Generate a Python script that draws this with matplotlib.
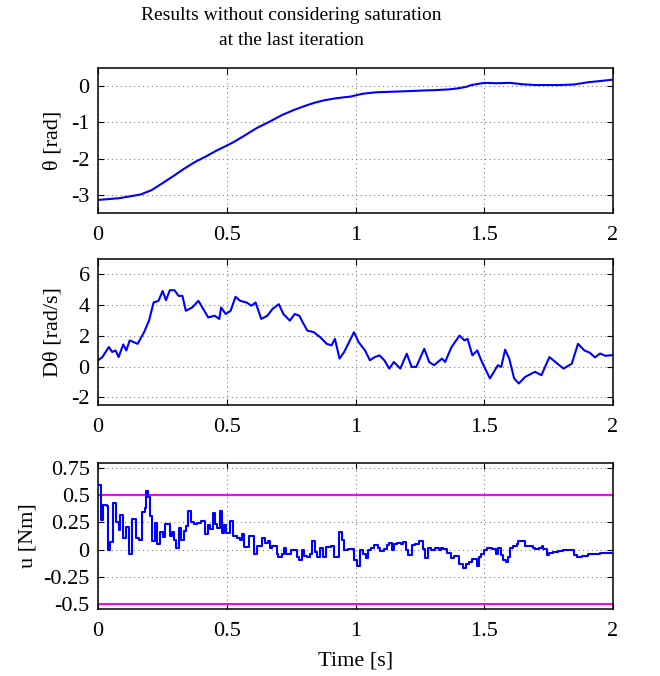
import matplotlib
matplotlib.use("Agg")
import matplotlib.pyplot as plt

# angle theta [rad]
theta_t = [0.0, 0.084, 0.165, 0.208, 0.25, 0.295, 0.332, 0.375, 0.419, 0.46, 0.5, 0.525,
           0.57, 0.618, 0.661, 0.717, 0.76, 0.804, 0.84, 0.879, 0.92, 0.953, 0.98, 1.003,
           1.028, 1.08, 1.14, 1.2, 1.264, 1.31, 1.363, 1.40, 1.43, 1.45, 1.5, 1.55, 1.6,
           1.65, 1.70, 1.736, 1.79, 1.848, 1.907, 1.95, 2.0]
theta_val = [-3.14, -3.09, -2.99, -2.87, -2.68, -2.47, -2.29, -2.10, -1.94, -1.78, -1.64, -1.55,
             -1.36, -1.15, -1.0, -0.79, -0.66, -0.545, -0.46, -0.39, -0.34, -0.31, -0.29, -0.25,
             -0.21, -0.17, -0.155, -0.14, -0.12, -0.11, -0.09, -0.06, -0.02, 0.03, 0.09, 0.08, 0.09,
             0.05, 0.03, 0.03, 0.03, 0.045, 0.11, 0.14, 0.18]

# angular velocity D theta [rad/s], middle panel
dth_t = [0.0, 0.017, 0.042, 0.055, 0.068, 0.08, 0.098, 0.11, 0.123, 0.154, 0.179, 0.198,
         0.216, 0.235, 0.251, 0.264, 0.279, 0.297, 0.313, 0.328, 0.341, 0.366, 0.39, 0.409,
         0.428, 0.453, 0.471, 0.478, 0.496, 0.515, 0.534, 0.552, 0.577, 0.596, 0.612, 0.634,
         0.658, 0.677, 0.702, 0.72, 0.745, 0.764, 0.782, 0.795, 0.813, 0.838, 0.863, 0.888,
         0.907, 0.92, 0.938, 0.956, 0.975, 0.994, 1.012, 1.037, 1.056, 1.075, 1.093, 1.112,
         1.131, 1.149, 1.174, 1.199, 1.218, 1.236, 1.267, 1.286, 1.305, 1.336, 1.348, 1.373,
         1.404, 1.423, 1.435, 1.454, 1.473, 1.491, 1.522, 1.553, 1.566, 1.581, 1.597, 1.616,
         1.634, 1.659, 1.697, 1.722, 1.753, 1.784, 1.808, 1.84, 1.864, 1.889, 1.91, 1.93,
         1.95, 1.97, 2.0]
dth_val = [0.4, 0.62, 1.27, 0.95, 1.05, 0.62, 1.44, 1.05, 1.7, 1.48, 2.24, 2.99,
           4.17, 4.28, 4.92, 4.32, 4.97, 4.97, 4.6, 4.6, 3.63, 3.85, 4.28, 3.74,
           3.2, 3.31, 3.1, 3.85, 3.42, 3.63, 4.54, 4.28, 4.17, 3.96, 4.17, 3.1,
           3.31, 3.74, 4.06, 3.42, 2.99, 3.42, 3.31, 2.88, 2.34, 2.24, 1.91, 1.48,
           1.38, 1.81, 0.52, 0.95, 1.59, 2.24, 1.59, 1.05, 0.41, 0.62, 0.73, 0.41,
           -0.13, 0.3, -0.13, 0.84, -0.02, -0.02, 1.16, 0.3, 0.09, 0.52, 0.3, 1.27,
           2.02, 1.7, 1.81, 0.73, 1.05, 0.3, -0.77, 0.09, -0.02, 1.1, 0.52, -0.77,
           -1.1, -0.67, -0.34, -0.56, 0.62, 0.19, -0.13, 0.19, 1.48, 1.05, 0.9, 0.6,
           0.85, 0.7, 0.75]

# control input u [Nm], piecewise constant (step start times)
u_t = [0.000, 0.010, 0.020, 0.035, 0.040, 0.048, 0.060, 0.070, 0.080, 0.087, 0.099, 0.109,
       0.119, 0.131, 0.149, 0.159, 0.171, 0.181, 0.188, 0.196, 0.203, 0.210, 0.220, 0.230,
       0.242, 0.252, 0.260, 0.279, 0.287, 0.294, 0.304, 0.314, 0.324, 0.333, 0.341, 0.351,
       0.361, 0.373, 0.383, 0.400, 0.415, 0.427, 0.435, 0.445, 0.454, 0.462, 0.472, 0.481,
       0.489, 0.496, 0.512, 0.525, 0.540, 0.550, 0.560, 0.567, 0.587, 0.607, 0.619, 0.637,
       0.649, 0.659, 0.668, 0.677, 0.694, 0.699, 0.716, 0.724, 0.731, 0.751, 0.761, 0.774,
       0.781, 0.791, 0.801, 0.811, 0.823, 0.833, 0.841, 0.851, 0.863, 0.873, 0.886, 0.904,
       0.917, 0.935, 0.948, 0.956, 0.969, 0.996, 1.006, 1.019, 1.031, 1.039, 1.049, 1.061,
       1.071, 1.086, 1.096, 1.111, 1.121, 1.131, 1.141, 1.148, 1.160, 1.175, 1.185, 1.198,
       1.205, 1.220, 1.230, 1.248, 1.262, 1.270, 1.280, 1.295, 1.310, 1.325, 1.332, 1.340,
       1.357, 1.372, 1.384, 1.402, 1.417, 1.429, 1.439, 1.454, 1.471, 1.479, 1.489, 1.499,
       1.511, 1.529, 1.544, 1.553, 1.566, 1.573, 1.583, 1.591, 1.601, 1.611, 1.626, 1.633,
       1.641, 1.658, 1.688, 1.698, 1.713, 1.723, 1.730, 1.743, 1.752, 1.767, 1.787, 1.805,
       1.830, 1.850, 1.862, 1.879, 1.904, 1.950, 2.000]
u_val = [0.60, 0.275, 0.416, 0.40, 0.0, 0.07, 0.434, 0.254, 0.18, 0.32, 0.107, 0.21,
         -0.037, 0.284, 0.11, 0.086, 0.345, 0.382, 0.544, 0.483, 0.306, 0.08, 0.245, 0.055,
         0.162, 0.116, 0.239, 0.122, 0.162, 0.086, 0.018, 0.2, 0.092, 0.171, 0.217, 0.36,
         0.254, 0.232, 0.248, 0.26, 0.141, 0.223, 0.193, 0.34, 0.239, 0.2, 0.36, 0.153,
         0.229, 0.153, 0.26, 0.122, 0.11, 0.092, 0.141, 0.024, 0.122, -0.037, 0.031, 0.110,
         0.061, 0.076, 0.018, 0.031, -0.046, -0.073, -0.043, 0.018, -0.043, -0.006, 0.0, -0.067,
         -0.098, -0.006, -0.061, -0.073, -0.043, 0.076, -0.021, -0.067, 0.018, -0.067, 0.024, 0.031,
         -0.073, 0.162, 0.086, 0.0, 0.009, -0.098, -0.153, 0.0, -0.037, -0.083, 0.0, 0.018,
         0.040, 0.018, -0.012, 0.009, 0.040, 0.061, 0.0, 0.055, 0.061, 0.049, 0.070, -0.006,
         -0.052, 0.040, 0.049, 0.080, 0.009, -0.083, 0.018, 0.0, 0.018, -0.006, 0.018, 0.009,
         -0.031, -0.083, -0.061, -0.135, -0.174, -0.135, -0.113, -0.092, -0.153, -0.067, -0.037, 0.0,
         0.018, 0.009, -0.037, 0.018, -0.052, -0.098, -0.113, -0.067, 0.018, 0.031, 0.055, 0.076,
         0.080, 0.031, 0.018, 0.009, 0.018, 0.031, 0.009, -0.052, -0.030, -0.021, -0.012, 0.0,
         -0.006, -0.052, -0.073, -0.061, -0.037, -0.030, -0.030]
u_limit = 0.5

x_ticks = [0, 0.5, 1, 1.5, 2]
x_ticklabels = ['0', '0.5', '1', '1.5', '2']
th_ticks = [-3, -2, -1, 0]
dth_ticks = [-2, 0, 2, 4, 6]
u_ticks = [-0.5, -0.25, 0, 0.25, 0.5, 0.75]
u_ticklabels = ['-0.5', '-0.25', '0', '0.25', '0.5', '0.75']

plt.rcParams.update({'font.family': 'Liberation Serif', 'font.size': 16,
                     'axes.unicode_minus': False})

fig = plt.figure(figsize=(6.6, 6.76), dpi=100)
W, H = 660.0, 676.0
def panel(top, bottom):
    return fig.add_axes([98 / W, 1 - bottom / H, (613 - 98) / W, (bottom - top) / H])

ax1 = panel(68, 213)
ax2 = panel(259, 405)
ax3 = panel(463, 609)

ax1.plot(theta_t, theta_val, color='blue', lw=1.5)
ax1.set_ylim(-3.5, 0.5)
ax1.set_yticks(th_ticks)
ax1.set_ylabel('θ [rad]', labelpad=6)

ax2.plot(dth_t, dth_val, color='blue', lw=1.5)
ax2.set_ylim(-2.5, 7)
ax2.set_yticks(dth_ticks)
ax2.set_ylabel('Dθ [rad/s]', labelpad=6)

ax3.step(u_t, u_val, where='post', color='blue', lw=1.5, zorder=3)
ax3.axhline(u_limit, color='magenta', lw=1.5, zorder=2)
ax3.axhline(-u_limit, color='magenta', lw=1.5, zorder=2)
ax3.set_ylim(-0.55, 0.8)
ax3.set_yticks(u_ticks)
ax3.set_yticklabels(u_ticklabels)
ax3.set_ylabel('u [Nm]', labelpad=4)
ax3.set_xlabel('Time [s]', labelpad=8)

for ax in (ax1, ax2, ax3):
    ax.set_xlim(0, 2)
    ax.set_xticks(x_ticks)
    ax.set_xticklabels(x_ticklabels)
    ax.grid(True, color='0.5', linestyle=(0, (1, 3)), linewidth=0.8)
    ax.set_axisbelow(True)
    ax.tick_params(direction='in', top=True, right=True, length=4, width=0.8, pad=6)
    ax.tick_params(axis='x', pad=9)
    for s in ax.spines.values():
        s.set_linewidth(1.1)

fig.text(291 / W, 1 - 28 / H, 'Results without considering saturation\nat the last iteration',
         ha='center', va='center', fontsize=14, linespacing=1.6)

fig.savefig('out.png', dpi=100)
